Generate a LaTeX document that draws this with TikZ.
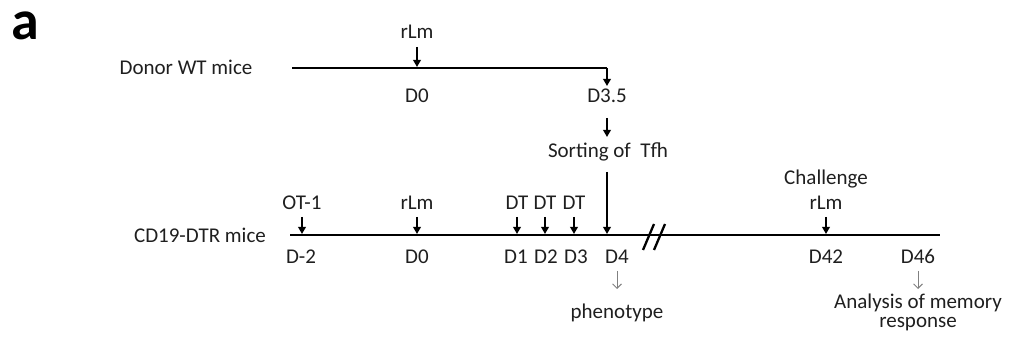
\documentclass[tikz,border=0pt]{standalone}
\usepackage{fontspec}
\setmainfont{Carlito}
\usetikzlibrary{arrows.meta}
\definecolor{txt}{gray}{0.12}
\begin{document}
\begin{tikzpicture}[x=1pt,y=-1pt,
  lbl/.style={inner sep=0pt, anchor=base, text=txt, font=\fontsize{21}{25}\selectfont},
  tline/.style={line width=2.6pt, black},
  darr/.style={line width=1.9pt, black, -{Triangle[length=7pt,width=7.5pt]}},
  garr/.style={line width=0.9pt, gray, -{Straight Barb[length=4.5pt,width=9pt]}},
  brk/.style={line width=2.3pt, black}]
\useasboundingbox (0,0) rectangle (1010,347);
\node[inner sep=0pt, anchor=base, text=black, font=\fontsize{56}{60}\selectfont\bfseries] (pa) at (25,40) {a};

% donor timeline
\node[lbl] (donor) at (186,75) {Donor WT mice};
\coordinate (ts) at (292,68);
\coordinate (tc) at (607,68);
\coordinate (tend) at (607,86);
\draw[tline] (ts) -- (tc);
\draw[darr] (tc) -- (tend);
\node[lbl] (rlmtop) at (417,39) {rLm};
\coordinate (t0) at (417,67);
\draw[darr] (417,47) -- (t0);
\node[lbl] (d0top) at (417,103) {D0};
\node[lbl] (d35) at (607,103) {D3.5};
\node[lbl] (sort) at (608,158) {Sorting of\ \ Tfh};
\draw[darr] (607,118) -- (607,137);

% recipient timeline
\node[lbl] (cd19) at (200,243) {CD19-DTR mice};
\coordinate (bs) at (290,235);
\coordinate (be) at (940,235);
\draw[tline] (bs) -- (be);
\coordinate (b4) at (607,234);
\draw[darr] (607,172) -- (b4);

\foreach \x/\t/\n in {302/OT-1/ot, 417/rLm/rb, 517/DT/dta, 545/DT/dtb, 574/DT/dtc, 826/rLm/rc}{
  \node[lbl] (\n) at (\x,210) {\t};
  \coordinate (\n-e) at (\x,234);
  \draw[darr] (\x,217) -- (\n-e);
}
\node[lbl] (chal) at (826,185) {Challenge};

\foreach \x/\t/\n in {301/D-2/dm2, 417/D0/dz, 516/D1/da, 546/D2/db, 576/D3/dc, 617/D4/dd, 826/D42/dfa, 918/D46/dfb}{
  \node[lbl] (\n) at (\x,264) {\t};
}

% break marks
\draw[brk] (643,250) -- (654,224);
\draw[brk] (654,250) -- (665,224);

% readouts
\node[lbl] (phen) at (617,319) {phenotype};
\draw[garr] (617,271) -- (617,289);
\node[lbl] (anal) at (918,309) {Analysis of memory};
\node[lbl] (resp) at (918,328) {response};
\draw[garr] (918,271) -- (918,289);
\end{tikzpicture}
\end{document}
